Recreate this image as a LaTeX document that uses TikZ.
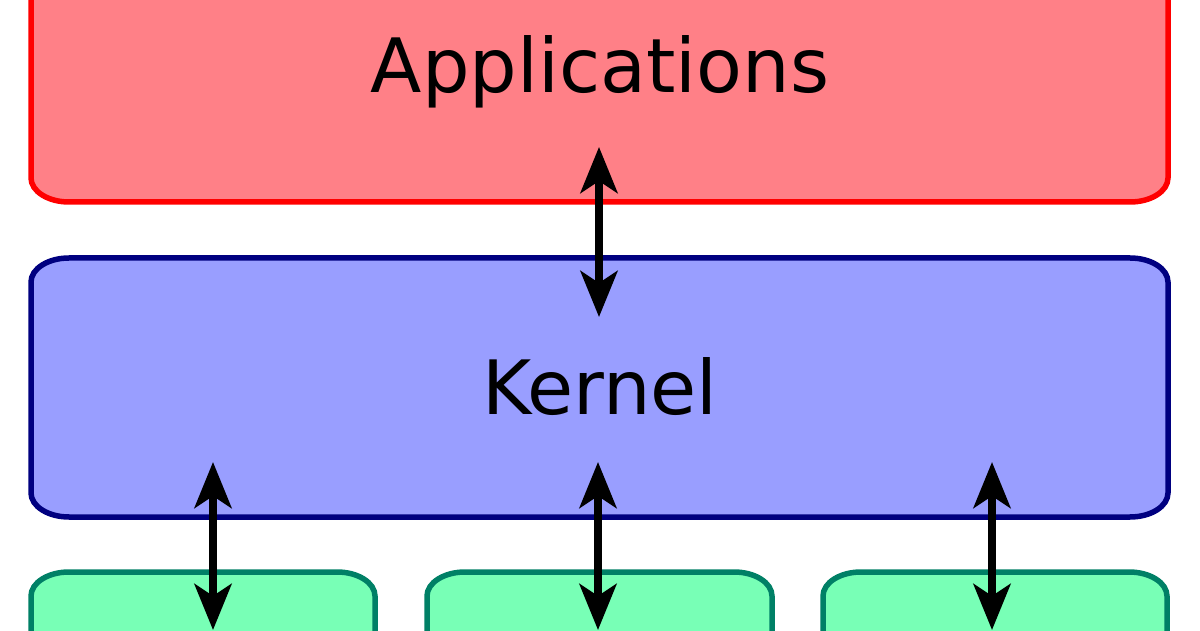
\documentclass[tikz,border=0pt]{standalone}
\usepackage{fontspec}
\setmainfont{DejaVu Sans}
\usetikzlibrary{arrows.meta}
\definecolor{appfill}{HTML}{FF8087}
\definecolor{appline}{HTML}{FF0000}
\definecolor{kerfill}{HTML}{999EFF}
\definecolor{kerline}{HTML}{000080}
\definecolor{devfill}{HTML}{78FFB6}
\definecolor{devline}{HTML}{008066}
\tikzset{
  boxline/.style={line width=5.5pt, line join=round},
  conn/.style={line width=7.5pt, {Stealth[length=46pt,width=37pt,inset=12pt]}-{Stealth[length=46pt,width=37pt,inset=12pt]}},
  lbl/.style={font=\fontsize{75}{90}\selectfont, anchor=base, inner sep=0pt}
}
\newcommand{\ebox}[5]{%
  \draw[boxline,#5] ({#1+38},{#2}) -- ({#3-38},{#2})
    arc[start angle=-90,end angle=0,x radius=38,y radius=24] -- ({#3},{#4-24})
    arc[start angle=0,end angle=90,x radius=38,y radius=24] -- ({#1+38},{#4})
    arc[start angle=90,end angle=180,x radius=38,y radius=24] -- ({#1},{#2+24})
    arc[start angle=180,end angle=270,x radius=38,y radius=24] -- cycle;}
\begin{document}
\begin{tikzpicture}[x=1pt,y=1pt]
\useasboundingbox (0,0) rectangle (1200,630);
\fill[white] (0,0) rectangle (1200,630);
\clip (0,0) rectangle (1200,630);
\ebox{31}{428}{1168}{690}{draw=appline,fill=appfill}
\ebox{31}{113}{1168}{372}{draw=kerline,fill=kerfill}
\ebox{31}{-80}{375}{58}{draw=devline,fill=devfill}
\ebox{427}{-80}{772}{58}{draw=devline,fill=devfill}
\ebox{823}{-80}{1167}{58}{draw=devline,fill=devfill}
\node[lbl] (apps) at (600,537) {Applications};
\node[lbl] (kernel) at (600,215) {Kernel};
\coordinate (a1) at (599,483);
\coordinate (a2) at (599,313);
\coordinate (b1) at (213,168);
\coordinate (b2) at (213,0);
\coordinate (c1) at (598,168);
\coordinate (c2) at (598,0);
\coordinate (d1) at (992,168);
\coordinate (d2) at (992,0);
\draw[conn] (a1) -- (a2);
\draw[conn] (b1) -- (b2);
\draw[conn] (c1) -- (c2);
\draw[conn] (d1) -- (d2);
\end{tikzpicture}
\end{document}
